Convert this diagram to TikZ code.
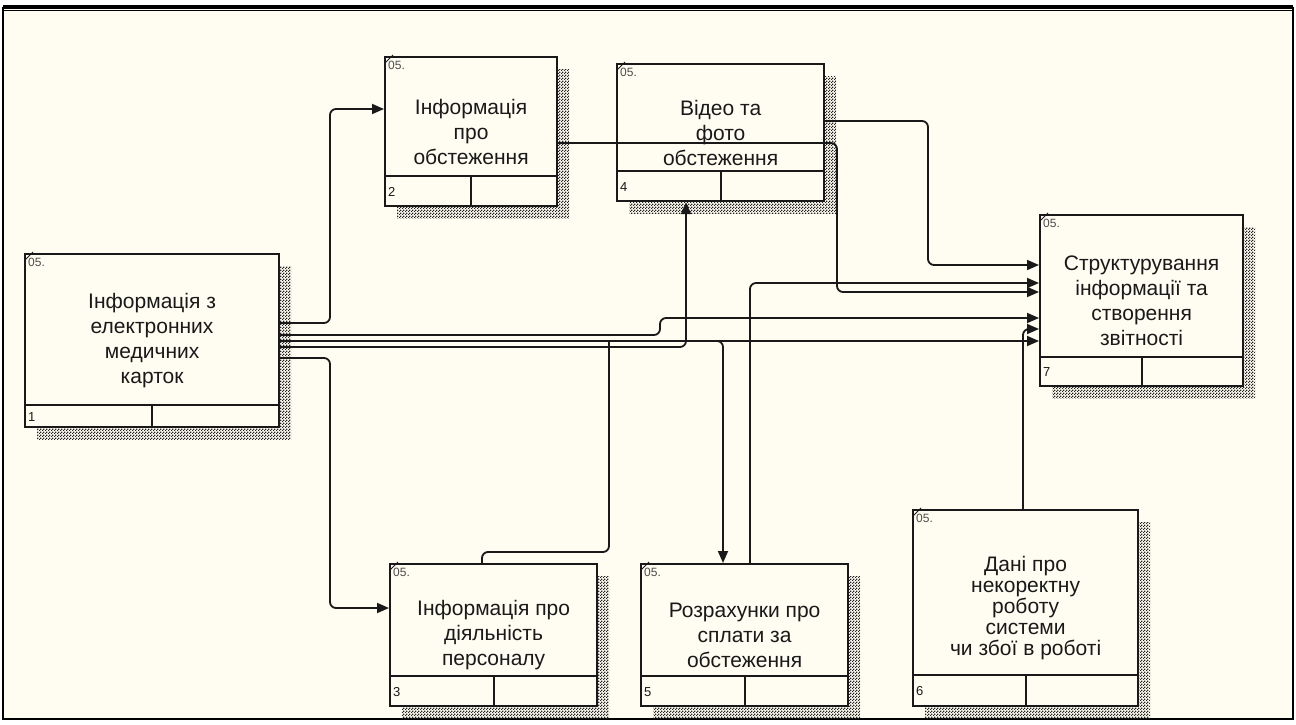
\documentclass[tikz,border=0pt]{standalone}
\usepackage{fontspec}
\setmainfont{Liberation Sans}
\usepackage{tikz}
\usetikzlibrary{arrows.meta,positioning,shadows,patterns}
\definecolor{paper}{RGB}{255,252,241}
\definecolor{ink}{RGB}{25,25,25}
\definecolor{hatch}{RGB}{35,35,35}
\pgfdeclarepatternformonly{finecheck}{\pgfpointorigin}{\pgfqpoint{3pt}{3pt}}{\pgfqpoint{3pt}{3pt}}{%
  \pgfpathrectangle{\pgfpointorigin}{\pgfqpoint{1.5pt}{1.5pt}}%
  \pgfpathrectangle{\pgfqpoint{1.5pt}{1.5pt}}{\pgfqpoint{1.5pt}{1.5pt}}%
  \pgfusepath{fill}}

\begin{document}
\begin{tikzpicture}[x=1pt, y=-1pt,
  font=\fontsize{21pt}{25pt}\selectfont\color{ink},
  procbox/.style={draw=ink, line width=2.2pt, fill=paper, align=center, anchor=north west,
              inner sep=0pt,
              general shadow={shadow xshift=12pt, shadow yshift=-12pt, opacity=1,
                              pattern=finecheck, pattern color=hatch}},
  divider/.style={line width=1.8pt, color=ink},
  numtag/.style={font=\fontsize{13pt}{13pt}\selectfont\color{ink}, anchor=west, inner sep=0pt},
  costtag/.style={font=\fontsize{12pt}{12pt}\selectfont\color{black!70}, anchor=north west, inner sep=0pt},
  tick/.style={line width=1pt, color=ink},
  conn/.style={line width=1.8pt, color=ink, rounded corners=6pt},
  arr/.style={conn, -{Triangle[length=12pt, width=10pt]}}]
\useasboundingbox[fill=white] (0,0) rectangle (1296,725);
% frame of the sheet
\draw[fill=paper, line width=1.4pt] (3,8) rectangle (1293,719);
\draw[line width=2.8pt] (3,6) -- (1293,6);
\draw[line width=1.2pt] (3,10.5) -- (1293,10.5);
% processes
\node[procbox, minimum width=254pt, minimum height=173pt] (p1) at (24,253)
  {Інформація з\\електронних\\медичних\\карток};
\node[procbox, minimum width=172pt, minimum height=149pt] (p2) at (384,56)
  {Інформація\\про\\обстеження};
\node[procbox, minimum width=207pt, minimum height=137pt] (p4) at (616,63)
  {Відео та\\фото\\обстеження};
\node[procbox, minimum width=203pt, minimum height=171pt] (p7) at (1039,214)
  {Структурування\\інформації та\\створення\\звітності};
\node[procbox, minimum width=207pt, minimum height=142pt] (p3) at (389,563)
  {Інформація про\\діяльність\\персоналу};
\node[procbox, minimum width=207pt, minimum height=142pt] (p5) at (640,563)
  {Розрахунки про\\сплати за\\обстеження};
\node[procbox, minimum width=225pt, minimum height=196pt,
      font=\fontsize{21pt}{21pt}\selectfont\color{ink}] (p6) at (912,509)
  {Дані про\\некоректну\\роботу\\системи\\чи збої в роботі};
% box strips, numbers and corner tags
\foreach \b/\n/\s in {p1/1/23, p2/2/31, p4/4/31, p7/7/30, p3/3/31, p5/5/31, p6/6/32} {
  \draw[divider] ([yshift=\s pt]\b.south west) -- ([yshift=\s pt]\b.south east);
  \draw[divider] ([yshift=\s pt]\b.south) -- (\b.south);
  \node[numtag] at ([xshift=4pt, yshift=0.5*\s pt]\b.south west) {\n};
  \node[costtag] at ([xshift=4pt, yshift=-5pt]\b.north west) {05.};
  \draw[tick] ([xshift=1pt, yshift=-7pt]\b.north west) -- ([xshift=9pt, yshift=1pt]\b.north west);
}
% connectors
\coordinate (br5) at (712,341);
\coordinate (jn3) at (609,341);
\draw[arr] (p1.east |- 0,323) -- (330,323) -- (330,109) -- (p2.west |- 0,109);
\draw[arr] (p1.east |- 0,358) -- (330,358) -- (330,608) -- (p3.west |- 0,608);
\draw[arr] (p1.east |- 0,335) -- (660,335) -- (660,318) -- (p7.west |- 0,318);
\draw[arr] (p1.east |- 0,341) -- (p7.west |- 0,341);
\draw[arr] (p1.east |- 0,347) -- (686,347) -- (686,0 |- p4.south);
\draw[arr] (br5) -- (723,341) -- (723,0 |- p5.north);
\draw[conn] (482,0 |- p3.north) -- (482,552) -- (609,552) -- (jn3);
\draw[arr] (p2.east |- 0,143) -- (837,143) -- (837,292) -- (p7.west |- 0,292);
\draw[arr] (p4.east |- 0,121) -- (928,121) -- (928,265) -- (p7.west |- 0,265);
\draw[arr] (750,0 |- p5.north) -- (750,283) -- (p7.west |- 0,283);
\draw[arr] (1023,0 |- p6.north) -- (1023,329) -- (p7.west |- 0,329);
\end{tikzpicture}
\end{document}
